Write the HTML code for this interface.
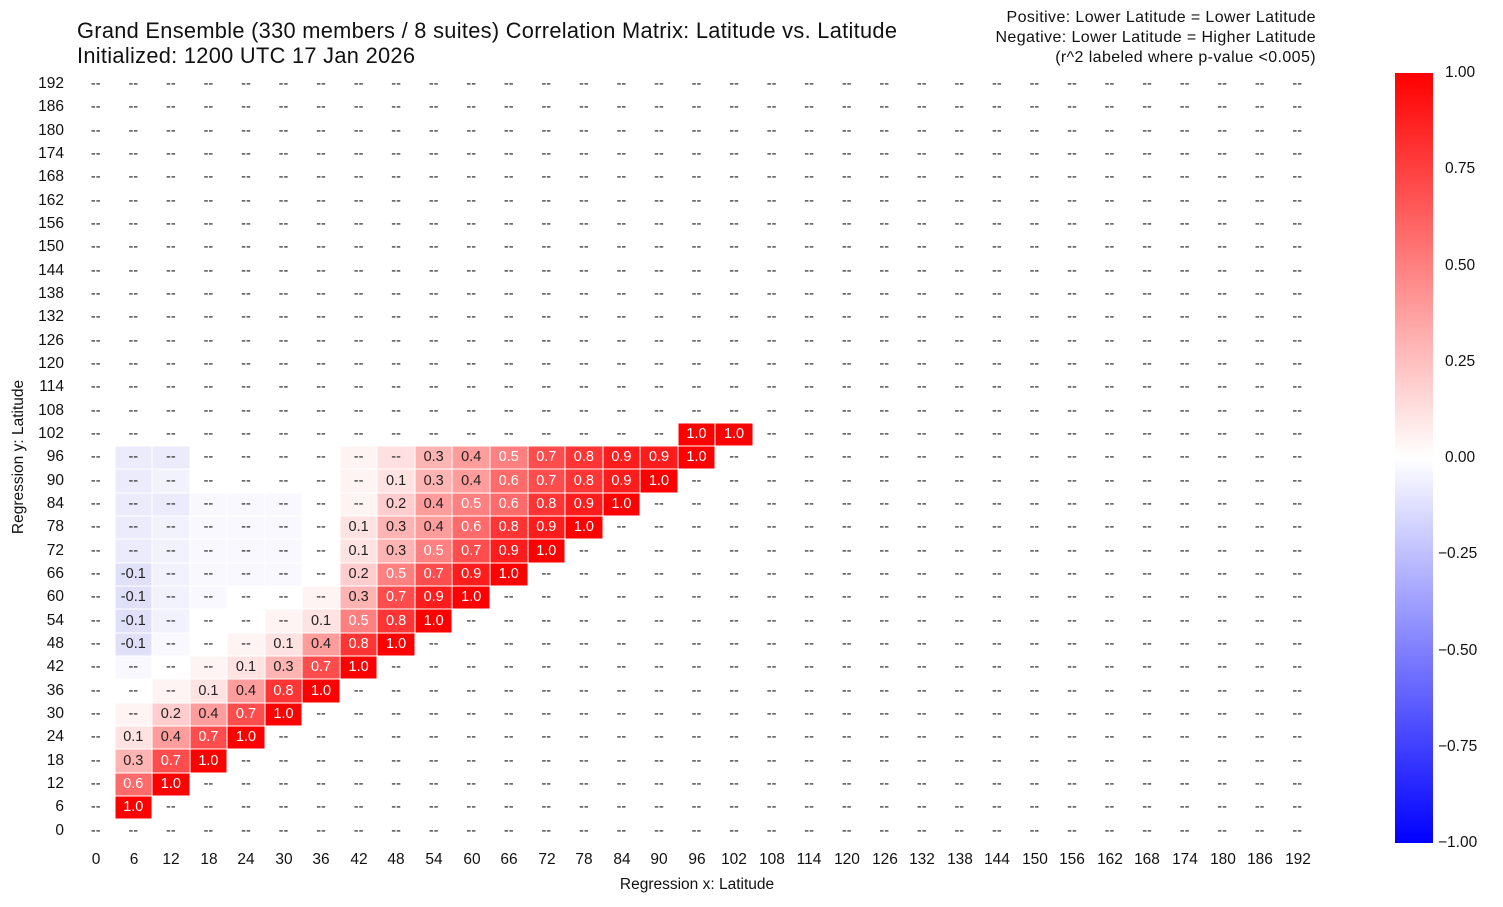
<!DOCTYPE html>
<html><head><meta charset="utf-8"><style>
body{margin:0;width:1503px;height:907px;background:#fff;font-family:"Liberation Sans",sans-serif;color:#111;position:relative;overflow:hidden}
.t{position:absolute;white-space:nowrap}
#g{position:absolute;left:77px;top:72.5px;width:1239px;height:770px;display:grid;grid-template-columns:repeat(33,1fr);grid-template-rows:repeat(33,1fr)}
#g i{font-style:normal;font-size:14.5px;display:flex;align-items:center;justify-content:center;color:#222;box-shadow:inset 0 0 0 0.5px #fff}
.a1{background:#ffe2e2}.a2{background:#ffcdcd}.a3{background:#ffb4b4}.a4{background:#ff9c9c}
.a5{background:#ff8080;color:#fff!important}.a6{background:#ff6a6a;color:#fff!important}.a7{background:#ff4d4d;color:#fff!important}.a8{background:#ff3535;color:#fff!important}.a9{background:#ff1c1c;color:#fff!important}.a0{background:#f00;color:#fff!important}
.f{background:#fff4f4}.p{background:#ffe0e0}.b{background:#ebebfb}.bn{background:#e0e0f8}.c{background:#f2f2fd}.d{background:#f8f8fe}
.yl{position:absolute;left:14px;width:50px;text-align:right;font-size:15.5px}
.xl{position:absolute;top:851px;width:44px;text-align:center;font-size:15.5px}
.cb{position:absolute;left:1445px;font-size:15.5px}
</style></head><body>
<div class="t" style="left:77px;top:18px;font-size:21.8px;letter-spacing:0.3px;line-height:25px">Grand Ensemble (330 members / 8 suites) Correlation Matrix: Latitude vs. Latitude<br>Initialized: 1200 UTC 17 Jan 2026</div>
<div class="t" style="right:187px;top:8px;font-size:16px;letter-spacing:0.4px;line-height:20px;text-align:right">Positive: Lower Latitude = Lower Latitude<br>Negative: Lower Latitude = Higher Latitude<br>(r^2 labeled where p-value &lt;0.005)</div>
<div id="g">
<i>--</i><i>--</i><i>--</i><i>--</i><i>--</i><i>--</i><i>--</i><i>--</i><i>--</i><i>--</i><i>--</i><i>--</i><i>--</i><i>--</i><i>--</i><i>--</i><i>--</i><i>--</i><i>--</i><i>--</i><i>--</i><i>--</i><i>--</i><i>--</i><i>--</i><i>--</i><i>--</i><i>--</i><i>--</i><i>--</i><i>--</i><i>--</i><i>--</i>
<i>--</i><i>--</i><i>--</i><i>--</i><i>--</i><i>--</i><i>--</i><i>--</i><i>--</i><i>--</i><i>--</i><i>--</i><i>--</i><i>--</i><i>--</i><i>--</i><i>--</i><i>--</i><i>--</i><i>--</i><i>--</i><i>--</i><i>--</i><i>--</i><i>--</i><i>--</i><i>--</i><i>--</i><i>--</i><i>--</i><i>--</i><i>--</i><i>--</i>
<i>--</i><i>--</i><i>--</i><i>--</i><i>--</i><i>--</i><i>--</i><i>--</i><i>--</i><i>--</i><i>--</i><i>--</i><i>--</i><i>--</i><i>--</i><i>--</i><i>--</i><i>--</i><i>--</i><i>--</i><i>--</i><i>--</i><i>--</i><i>--</i><i>--</i><i>--</i><i>--</i><i>--</i><i>--</i><i>--</i><i>--</i><i>--</i><i>--</i>
<i>--</i><i>--</i><i>--</i><i>--</i><i>--</i><i>--</i><i>--</i><i>--</i><i>--</i><i>--</i><i>--</i><i>--</i><i>--</i><i>--</i><i>--</i><i>--</i><i>--</i><i>--</i><i>--</i><i>--</i><i>--</i><i>--</i><i>--</i><i>--</i><i>--</i><i>--</i><i>--</i><i>--</i><i>--</i><i>--</i><i>--</i><i>--</i><i>--</i>
<i>--</i><i>--</i><i>--</i><i>--</i><i>--</i><i>--</i><i>--</i><i>--</i><i>--</i><i>--</i><i>--</i><i>--</i><i>--</i><i>--</i><i>--</i><i>--</i><i>--</i><i>--</i><i>--</i><i>--</i><i>--</i><i>--</i><i>--</i><i>--</i><i>--</i><i>--</i><i>--</i><i>--</i><i>--</i><i>--</i><i>--</i><i>--</i><i>--</i>
<i>--</i><i>--</i><i>--</i><i>--</i><i>--</i><i>--</i><i>--</i><i>--</i><i>--</i><i>--</i><i>--</i><i>--</i><i>--</i><i>--</i><i>--</i><i>--</i><i>--</i><i>--</i><i>--</i><i>--</i><i>--</i><i>--</i><i>--</i><i>--</i><i>--</i><i>--</i><i>--</i><i>--</i><i>--</i><i>--</i><i>--</i><i>--</i><i>--</i>
<i>--</i><i>--</i><i>--</i><i>--</i><i>--</i><i>--</i><i>--</i><i>--</i><i>--</i><i>--</i><i>--</i><i>--</i><i>--</i><i>--</i><i>--</i><i>--</i><i>--</i><i>--</i><i>--</i><i>--</i><i>--</i><i>--</i><i>--</i><i>--</i><i>--</i><i>--</i><i>--</i><i>--</i><i>--</i><i>--</i><i>--</i><i>--</i><i>--</i>
<i>--</i><i>--</i><i>--</i><i>--</i><i>--</i><i>--</i><i>--</i><i>--</i><i>--</i><i>--</i><i>--</i><i>--</i><i>--</i><i>--</i><i>--</i><i>--</i><i>--</i><i>--</i><i>--</i><i>--</i><i>--</i><i>--</i><i>--</i><i>--</i><i>--</i><i>--</i><i>--</i><i>--</i><i>--</i><i>--</i><i>--</i><i>--</i><i>--</i>
<i>--</i><i>--</i><i>--</i><i>--</i><i>--</i><i>--</i><i>--</i><i>--</i><i>--</i><i>--</i><i>--</i><i>--</i><i>--</i><i>--</i><i>--</i><i>--</i><i>--</i><i>--</i><i>--</i><i>--</i><i>--</i><i>--</i><i>--</i><i>--</i><i>--</i><i>--</i><i>--</i><i>--</i><i>--</i><i>--</i><i>--</i><i>--</i><i>--</i>
<i>--</i><i>--</i><i>--</i><i>--</i><i>--</i><i>--</i><i>--</i><i>--</i><i>--</i><i>--</i><i>--</i><i>--</i><i>--</i><i>--</i><i>--</i><i>--</i><i>--</i><i>--</i><i>--</i><i>--</i><i>--</i><i>--</i><i>--</i><i>--</i><i>--</i><i>--</i><i>--</i><i>--</i><i>--</i><i>--</i><i>--</i><i>--</i><i>--</i>
<i>--</i><i>--</i><i>--</i><i>--</i><i>--</i><i>--</i><i>--</i><i>--</i><i>--</i><i>--</i><i>--</i><i>--</i><i>--</i><i>--</i><i>--</i><i>--</i><i>--</i><i>--</i><i>--</i><i>--</i><i>--</i><i>--</i><i>--</i><i>--</i><i>--</i><i>--</i><i>--</i><i>--</i><i>--</i><i>--</i><i>--</i><i>--</i><i>--</i>
<i>--</i><i>--</i><i>--</i><i>--</i><i>--</i><i>--</i><i>--</i><i>--</i><i>--</i><i>--</i><i>--</i><i>--</i><i>--</i><i>--</i><i>--</i><i>--</i><i>--</i><i>--</i><i>--</i><i>--</i><i>--</i><i>--</i><i>--</i><i>--</i><i>--</i><i>--</i><i>--</i><i>--</i><i>--</i><i>--</i><i>--</i><i>--</i><i>--</i>
<i>--</i><i>--</i><i>--</i><i>--</i><i>--</i><i>--</i><i>--</i><i>--</i><i>--</i><i>--</i><i>--</i><i>--</i><i>--</i><i>--</i><i>--</i><i>--</i><i>--</i><i>--</i><i>--</i><i>--</i><i>--</i><i>--</i><i>--</i><i>--</i><i>--</i><i>--</i><i>--</i><i>--</i><i>--</i><i>--</i><i>--</i><i>--</i><i>--</i>
<i>--</i><i>--</i><i>--</i><i>--</i><i>--</i><i>--</i><i>--</i><i>--</i><i>--</i><i>--</i><i>--</i><i>--</i><i>--</i><i>--</i><i>--</i><i>--</i><i>--</i><i>--</i><i>--</i><i>--</i><i>--</i><i>--</i><i>--</i><i>--</i><i>--</i><i>--</i><i>--</i><i>--</i><i>--</i><i>--</i><i>--</i><i>--</i><i>--</i>
<i>--</i><i>--</i><i>--</i><i>--</i><i>--</i><i>--</i><i>--</i><i>--</i><i>--</i><i>--</i><i>--</i><i>--</i><i>--</i><i>--</i><i>--</i><i>--</i><i>--</i><i>--</i><i>--</i><i>--</i><i>--</i><i>--</i><i>--</i><i>--</i><i>--</i><i>--</i><i>--</i><i>--</i><i>--</i><i>--</i><i>--</i><i>--</i><i>--</i>
<i>--</i><i>--</i><i>--</i><i>--</i><i>--</i><i>--</i><i>--</i><i>--</i><i>--</i><i>--</i><i>--</i><i>--</i><i>--</i><i>--</i><i>--</i><i>--</i><i class="a0">1.0</i><i class="a0">1.0</i><i>--</i><i>--</i><i>--</i><i>--</i><i>--</i><i>--</i><i>--</i><i>--</i><i>--</i><i>--</i><i>--</i><i>--</i><i>--</i><i>--</i><i>--</i>
<i>--</i><i class="b">--</i><i class="b">--</i><i>--</i><i>--</i><i>--</i><i>--</i><i class="f">--</i><i class="p">--</i><i class="a3">0.3</i><i class="a4">0.4</i><i class="a5">0.5</i><i class="a7">0.7</i><i class="a8">0.8</i><i class="a9">0.9</i><i class="a9">0.9</i><i class="a0">1.0</i><i>--</i><i>--</i><i>--</i><i>--</i><i>--</i><i>--</i><i>--</i><i>--</i><i>--</i><i>--</i><i>--</i><i>--</i><i>--</i><i>--</i><i>--</i><i>--</i>
<i>--</i><i class="b">--</i><i class="c">--</i><i>--</i><i>--</i><i>--</i><i>--</i><i class="f">--</i><i class="a1">0.1</i><i class="a3">0.3</i><i class="a4">0.4</i><i class="a6">0.6</i><i class="a7">0.7</i><i class="a8">0.8</i><i class="a9">0.9</i><i class="a0">1.0</i><i>--</i><i>--</i><i>--</i><i>--</i><i>--</i><i>--</i><i>--</i><i>--</i><i>--</i><i>--</i><i>--</i><i>--</i><i>--</i><i>--</i><i>--</i><i>--</i><i>--</i>
<i>--</i><i class="b">--</i><i class="b">--</i><i class="d">--</i><i class="d">--</i><i class="d">--</i><i>--</i><i class="f">--</i><i class="a2">0.2</i><i class="a4">0.4</i><i class="a5">0.5</i><i class="a6">0.6</i><i class="a8">0.8</i><i class="a9">0.9</i><i class="a0">1.0</i><i>--</i><i>--</i><i>--</i><i>--</i><i>--</i><i>--</i><i>--</i><i>--</i><i>--</i><i>--</i><i>--</i><i>--</i><i>--</i><i>--</i><i>--</i><i>--</i><i>--</i><i>--</i>
<i>--</i><i class="b">--</i><i class="c">--</i><i class="d">--</i><i class="d">--</i><i class="d">--</i><i>--</i><i class="a1">0.1</i><i class="a3">0.3</i><i class="a4">0.4</i><i class="a6">0.6</i><i class="a8">0.8</i><i class="a9">0.9</i><i class="a0">1.0</i><i>--</i><i>--</i><i>--</i><i>--</i><i>--</i><i>--</i><i>--</i><i>--</i><i>--</i><i>--</i><i>--</i><i>--</i><i>--</i><i>--</i><i>--</i><i>--</i><i>--</i><i>--</i><i>--</i>
<i>--</i><i class="b">--</i><i class="c">--</i><i class="d">--</i><i class="d">--</i><i class="d">--</i><i>--</i><i class="a1">0.1</i><i class="a3">0.3</i><i class="a5">0.5</i><i class="a7">0.7</i><i class="a9">0.9</i><i class="a0">1.0</i><i>--</i><i>--</i><i>--</i><i>--</i><i>--</i><i>--</i><i>--</i><i>--</i><i>--</i><i>--</i><i>--</i><i>--</i><i>--</i><i>--</i><i>--</i><i>--</i><i>--</i><i>--</i><i>--</i><i>--</i>
<i>--</i><i class="bn">-0.1</i><i class="c">--</i><i class="d">--</i><i class="d">--</i><i class="d">--</i><i>--</i><i class="a2">0.2</i><i class="a5">0.5</i><i class="a7">0.7</i><i class="a9">0.9</i><i class="a0">1.0</i><i>--</i><i>--</i><i>--</i><i>--</i><i>--</i><i>--</i><i>--</i><i>--</i><i>--</i><i>--</i><i>--</i><i>--</i><i>--</i><i>--</i><i>--</i><i>--</i><i>--</i><i>--</i><i>--</i><i>--</i><i>--</i>
<i>--</i><i class="bn">-0.1</i><i class="c">--</i><i class="d">--</i><i>--</i><i>--</i><i class="f">--</i><i class="a3">0.3</i><i class="a7">0.7</i><i class="a9">0.9</i><i class="a0">1.0</i><i>--</i><i>--</i><i>--</i><i>--</i><i>--</i><i>--</i><i>--</i><i>--</i><i>--</i><i>--</i><i>--</i><i>--</i><i>--</i><i>--</i><i>--</i><i>--</i><i>--</i><i>--</i><i>--</i><i>--</i><i>--</i><i>--</i>
<i>--</i><i class="bn">-0.1</i><i class="c">--</i><i>--</i><i>--</i><i class="f">--</i><i class="a1">0.1</i><i class="a5">0.5</i><i class="a8">0.8</i><i class="a0">1.0</i><i>--</i><i>--</i><i>--</i><i>--</i><i>--</i><i>--</i><i>--</i><i>--</i><i>--</i><i>--</i><i>--</i><i>--</i><i>--</i><i>--</i><i>--</i><i>--</i><i>--</i><i>--</i><i>--</i><i>--</i><i>--</i><i>--</i><i>--</i>
<i>--</i><i class="bn">-0.1</i><i class="d">--</i><i>--</i><i class="f">--</i><i class="a1">0.1</i><i class="a4">0.4</i><i class="a8">0.8</i><i class="a0">1.0</i><i>--</i><i>--</i><i>--</i><i>--</i><i>--</i><i>--</i><i>--</i><i>--</i><i>--</i><i>--</i><i>--</i><i>--</i><i>--</i><i>--</i><i>--</i><i>--</i><i>--</i><i>--</i><i>--</i><i>--</i><i>--</i><i>--</i><i>--</i><i>--</i>
<i>--</i><i class="d">--</i><i>--</i><i class="f">--</i><i class="a1">0.1</i><i class="a3">0.3</i><i class="a7">0.7</i><i class="a0">1.0</i><i>--</i><i>--</i><i>--</i><i>--</i><i>--</i><i>--</i><i>--</i><i>--</i><i>--</i><i>--</i><i>--</i><i>--</i><i>--</i><i>--</i><i>--</i><i>--</i><i>--</i><i>--</i><i>--</i><i>--</i><i>--</i><i>--</i><i>--</i><i>--</i><i>--</i>
<i>--</i><i>--</i><i class="f">--</i><i class="a1">0.1</i><i class="a4">0.4</i><i class="a8">0.8</i><i class="a0">1.0</i><i>--</i><i>--</i><i>--</i><i>--</i><i>--</i><i>--</i><i>--</i><i>--</i><i>--</i><i>--</i><i>--</i><i>--</i><i>--</i><i>--</i><i>--</i><i>--</i><i>--</i><i>--</i><i>--</i><i>--</i><i>--</i><i>--</i><i>--</i><i>--</i><i>--</i><i>--</i>
<i>--</i><i class="f">--</i><i class="a2">0.2</i><i class="a4">0.4</i><i class="a7">0.7</i><i class="a0">1.0</i><i>--</i><i>--</i><i>--</i><i>--</i><i>--</i><i>--</i><i>--</i><i>--</i><i>--</i><i>--</i><i>--</i><i>--</i><i>--</i><i>--</i><i>--</i><i>--</i><i>--</i><i>--</i><i>--</i><i>--</i><i>--</i><i>--</i><i>--</i><i>--</i><i>--</i><i>--</i><i>--</i>
<i>--</i><i class="a1">0.1</i><i class="a4">0.4</i><i class="a7">0.7</i><i class="a0">1.0</i><i>--</i><i>--</i><i>--</i><i>--</i><i>--</i><i>--</i><i>--</i><i>--</i><i>--</i><i>--</i><i>--</i><i>--</i><i>--</i><i>--</i><i>--</i><i>--</i><i>--</i><i>--</i><i>--</i><i>--</i><i>--</i><i>--</i><i>--</i><i>--</i><i>--</i><i>--</i><i>--</i><i>--</i>
<i>--</i><i class="a3">0.3</i><i class="a7">0.7</i><i class="a0">1.0</i><i>--</i><i>--</i><i>--</i><i>--</i><i>--</i><i>--</i><i>--</i><i>--</i><i>--</i><i>--</i><i>--</i><i>--</i><i>--</i><i>--</i><i>--</i><i>--</i><i>--</i><i>--</i><i>--</i><i>--</i><i>--</i><i>--</i><i>--</i><i>--</i><i>--</i><i>--</i><i>--</i><i>--</i><i>--</i>
<i>--</i><i class="a6">0.6</i><i class="a0">1.0</i><i>--</i><i>--</i><i>--</i><i>--</i><i>--</i><i>--</i><i>--</i><i>--</i><i>--</i><i>--</i><i>--</i><i>--</i><i>--</i><i>--</i><i>--</i><i>--</i><i>--</i><i>--</i><i>--</i><i>--</i><i>--</i><i>--</i><i>--</i><i>--</i><i>--</i><i>--</i><i>--</i><i>--</i><i>--</i><i>--</i>
<i>--</i><i class="a0">1.0</i><i>--</i><i>--</i><i>--</i><i>--</i><i>--</i><i>--</i><i>--</i><i>--</i><i>--</i><i>--</i><i>--</i><i>--</i><i>--</i><i>--</i><i>--</i><i>--</i><i>--</i><i>--</i><i>--</i><i>--</i><i>--</i><i>--</i><i>--</i><i>--</i><i>--</i><i>--</i><i>--</i><i>--</i><i>--</i><i>--</i><i>--</i>
<i>--</i><i>--</i><i>--</i><i>--</i><i>--</i><i>--</i><i>--</i><i>--</i><i>--</i><i>--</i><i>--</i><i>--</i><i>--</i><i>--</i><i>--</i><i>--</i><i>--</i><i>--</i><i>--</i><i>--</i><i>--</i><i>--</i><i>--</i><i>--</i><i>--</i><i>--</i><i>--</i><i>--</i><i>--</i><i>--</i><i>--</i><i>--</i><i>--</i>
</div>
<div class="yl" style="top:75px">192</div><div class="yl" style="top:98px">186</div><div class="yl" style="top:122px">180</div><div class="yl" style="top:145px">174</div><div class="yl" style="top:168px">168</div><div class="yl" style="top:192px">162</div><div class="yl" style="top:215px">156</div><div class="yl" style="top:238px">150</div><div class="yl" style="top:262px">144</div><div class="yl" style="top:285px">138</div><div class="yl" style="top:308px">132</div><div class="yl" style="top:332px">126</div><div class="yl" style="top:355px">120</div><div class="yl" style="top:378px">114</div><div class="yl" style="top:402px">108</div><div class="yl" style="top:425px">102</div><div class="yl" style="top:448px">96</div><div class="yl" style="top:472px">90</div><div class="yl" style="top:495px">84</div><div class="yl" style="top:518px">78</div><div class="yl" style="top:542px">72</div><div class="yl" style="top:565px">66</div><div class="yl" style="top:588px">60</div><div class="yl" style="top:612px">54</div><div class="yl" style="top:635px">48</div><div class="yl" style="top:658px">42</div><div class="yl" style="top:682px">36</div><div class="yl" style="top:705px">30</div><div class="yl" style="top:728px">24</div><div class="yl" style="top:752px">18</div><div class="yl" style="top:775px">12</div><div class="yl" style="top:798px">6</div><div class="yl" style="top:822px">0</div>
<div class="xl" style="left:74px">0</div><div class="xl" style="left:112px">6</div><div class="xl" style="left:149px">12</div><div class="xl" style="left:187px">18</div><div class="xl" style="left:224px">24</div><div class="xl" style="left:262px">30</div><div class="xl" style="left:299px">36</div><div class="xl" style="left:337px">42</div><div class="xl" style="left:374px">48</div><div class="xl" style="left:412px">54</div><div class="xl" style="left:450px">60</div><div class="xl" style="left:487px">66</div><div class="xl" style="left:525px">72</div><div class="xl" style="left:562px">78</div><div class="xl" style="left:600px">84</div><div class="xl" style="left:637px">90</div><div class="xl" style="left:675px">96</div><div class="xl" style="left:712px">102</div><div class="xl" style="left:750px">108</div><div class="xl" style="left:787px">114</div><div class="xl" style="left:825px">120</div><div class="xl" style="left:863px">126</div><div class="xl" style="left:900px">132</div><div class="xl" style="left:938px">138</div><div class="xl" style="left:975px">144</div><div class="xl" style="left:1013px">150</div><div class="xl" style="left:1050px">156</div><div class="xl" style="left:1088px">162</div><div class="xl" style="left:1125px">168</div><div class="xl" style="left:1163px">174</div><div class="xl" style="left:1201px">180</div><div class="xl" style="left:1238px">186</div><div class="xl" style="left:1276px">192</div>
<div class="t" style="left:697px;top:876px;font-size:15.5px;transform:translateX(-50%)">Regression x: Latitude</div>
<div class="t" style="left:19px;top:457px;font-size:15.5px;transform:translate(-50%,-50%) rotate(-90deg)">Regression y: Latitude</div>
<div style="position:absolute;left:1395px;top:73px;width:38px;height:770px;background:linear-gradient(#f00,#fff 50%,#00f)"></div>
<div class="cb" style="top:64px">1.00</div>
<div class="cb" style="top:160px">0.75</div>
<div class="cb" style="top:257px">0.50</div>
<div class="cb" style="top:353px">0.25</div>
<div class="cb" style="top:449px">0.00</div>
<div class="cb" style="top:545px;left:1438px">−0.25</div>
<div class="cb" style="top:642px;left:1438px">−0.50</div>
<div class="cb" style="top:738px;left:1438px">−0.75</div>
<div class="cb" style="top:834px;left:1438px">−1.00</div>
</body></html>
